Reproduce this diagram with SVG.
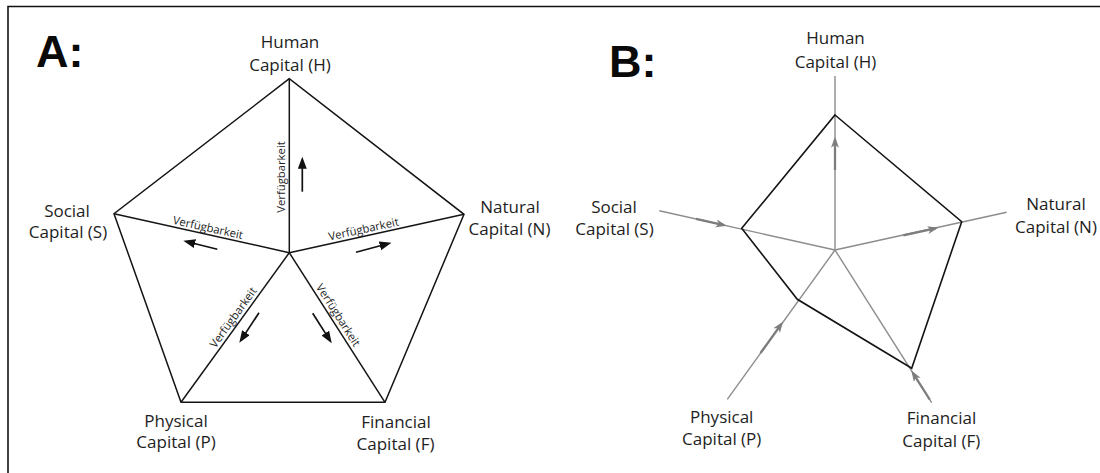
<svg xmlns="http://www.w3.org/2000/svg" width="1100" height="473" viewBox="0 0 1100 473">
  <style>
    .frame { fill: none; stroke: #111; stroke-width: 1.6; }
    .edge { stroke: #141414; stroke-width: 1.5; fill: none; stroke-linejoin: miter; }
    .arrA { stroke: #111; stroke-width: 1.7; fill: none; marker-end: url(#headA); }
    .axis { stroke: #8c8c8c; stroke-width: 1.4; fill: none; }
    .arrB { stroke: #7d7d7d; stroke-width: 2.3; fill: none; marker-end: url(#headB); }
    .poly { stroke: #141414; stroke-width: 1.6; fill: none; stroke-linejoin: miter; }
    .lbl { font-family: "Open Sans", "Liberation Sans", sans-serif; font-size: 17px; fill: #1e1e1e; text-anchor: middle; }
    .avail { font-family: "Open Sans", "Liberation Sans", sans-serif; font-size: 11.3px; fill: #1e1e1e; text-anchor: middle; }
    .panel { font-family: "Liberation Sans", Arial, sans-serif; font-weight: bold; font-size: 45px; fill: #0a0a0a; }
  </style>
  <defs>
    <marker id="headA" markerUnits="userSpaceOnUse" markerWidth="13" markerHeight="10" refX="8" refY="4.5" orient="auto">
      <path d="M0,0 L12,4.5 L0,9 z" fill="#111"/>
    </marker>
    <marker id="headB" markerUnits="userSpaceOnUse" markerWidth="12" markerHeight="9" refX="8" refY="4" orient="auto">
      <path d="M0,0 L11,4 L0,8 L3,4 z" fill="#7d7d7d"/>
    </marker>
  </defs>

  <rect width="1100" height="473" fill="#fff"/>
  <path class="frame" d="M8,473 V6.5 H1100"/>

  <!-- panel titles -->
  <text class="panel" x="36" y="66.7">A:</text>
  <text class="panel" x="609" y="76.7">B:</text>

  <!-- panel A: capital pentagon with availability spokes -->
  <g id="connectors-a">
    <path class="edge" d="M289.3,78.7 L114,213.7 L181,402.3 L385,402.3 L464,214.3 Z"/>
    <line class="edge" x1="289.3" y1="252.7" x2="289.3" y2="78.7"/>
    <line class="edge" x1="289.3" y1="252.7" x2="114" y2="213.7"/>
    <line class="edge" x1="289.3" y1="252.7" x2="464" y2="214.3"/>
    <line class="edge" x1="289.3" y1="252.7" x2="181" y2="402.3"/>
    <line class="edge" x1="289.3" y1="252.7" x2="385" y2="402.3"/>
    <line class="arrA" x1="302.3" y1="191.7" x2="302.3" y2="160.7"/>
    <line class="arrA" x1="217.3" y1="249.3" x2="187.2" y2="241.7"/>
    <line class="arrA" x1="356" y1="252.3" x2="387.6" y2="243.7"/>
    <line class="arrA" x1="259" y1="312.7" x2="241.5" y2="339.4"/>
    <line class="arrA" x1="312.7" y1="313.3" x2="329.6" y2="339.9"/>
    <text class="avail" transform="translate(285.3,177) rotate(-90)">Verfügbarkeit</text>
    <text class="avail" transform="translate(207.1,231.5) rotate(12.4)">Verfügbarkeit</text>
    <text class="avail" transform="translate(364.4,233) rotate(-12.3)">Verfügbarkeit</text>
    <text class="avail" transform="translate(236.4,319.8) rotate(-54.1)">Verfügbarkeit</text>
    <text class="avail" transform="translate(334.9,317.2) rotate(57.3)">Verfügbarkeit</text>
  </g>

  <g id="a-human">
    <text class="lbl" x="290" y="48.3">Human</text>
    <text class="lbl" x="290" y="70.7">Capital (H)</text>
  </g>
  <g id="a-social">
    <text class="lbl" x="67" y="216.7">Social</text>
    <text class="lbl" x="68" y="238.3">Capital (S)</text>
  </g>
  <g id="a-natural">
    <text class="lbl" x="510" y="213.3">Natural</text>
    <text class="lbl" x="509.5" y="235">Capital (N)</text>
  </g>
  <g id="a-physical">
    <text class="lbl" x="176" y="426.7">Physical</text>
    <text class="lbl" x="176" y="448.3">Capital (P)</text>
  </g>
  <g id="a-financial">
    <text class="lbl" x="396" y="428.3">Financial</text>
    <text class="lbl" x="395.5" y="450">Capital (F)</text>
  </g>

  <!-- panel B: radar axes with the current capital profile -->
  <g id="connectors-b">
    <line class="axis" x1="835" y1="250" x2="835" y2="76"/>
    <line class="axis" x1="835" y1="250" x2="659.3" y2="210.7"/>
    <line class="axis" x1="835" y1="250" x2="1006.7" y2="212.3"/>
    <line class="axis" x1="835" y1="250" x2="727.3" y2="399.3"/>
    <line class="axis" x1="835" y1="250" x2="931.7" y2="402.7"/>
    <line class="arrB" x1="835" y1="170" x2="835" y2="139.7"/>
    <line class="arrB" x1="696" y1="218.9" x2="723.8" y2="225.1"/>
    <line class="arrB" x1="903.3" y1="235.4" x2="935.4" y2="228.3"/>
    <line class="arrB" x1="760.5" y1="353" x2="781.3" y2="324.1"/>
    <line class="arrB" x1="929.7" y1="399.5" x2="913" y2="373.2"/>
    <path class="poly" d="M835,115 L961.7,221.7 L911.7,368.3 L797.3,299.3 L741.7,228.3 Z"/>
  </g>

  <g id="b-human">
    <text class="lbl" x="835.5" y="44.3">Human</text>
    <text class="lbl" x="835.5" y="67.7">Capital (H)</text>
  </g>
  <g id="b-social">
    <text class="lbl" x="614" y="213.3">Social</text>
    <text class="lbl" x="614.5" y="235">Capital (S)</text>
  </g>
  <g id="b-natural">
    <text class="lbl" x="1056" y="210">Natural</text>
    <text class="lbl" x="1056" y="232.7">Capital (N)</text>
  </g>
  <g id="b-physical">
    <text class="lbl" x="721.7" y="423.3">Physical</text>
    <text class="lbl" x="721.7" y="445">Capital (P)</text>
  </g>
  <g id="b-financial">
    <text class="lbl" x="941.5" y="424">Financial</text>
    <text class="lbl" x="941.3" y="446.7">Capital (F)</text>
  </g>
</svg>
